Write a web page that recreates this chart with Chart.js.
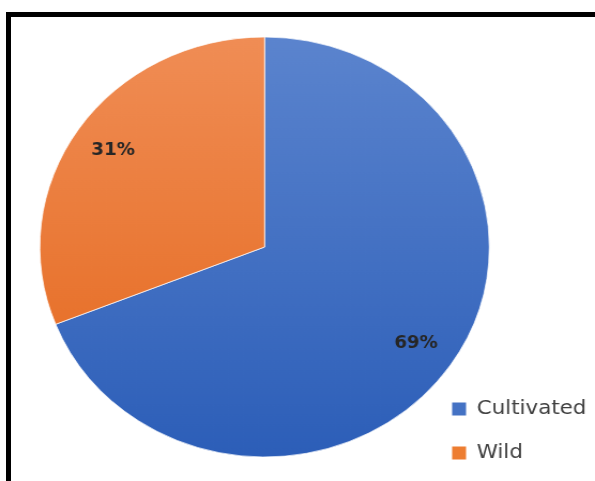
<!DOCTYPE html>
<html>
<head>
<meta charset="utf-8">
<script src="https://cdn.jsdelivr.net/npm/chart.js@4.4.1/dist/chart.umd.min.js"></script>
<style>
  html, body { margin: 0; padding: 0; background: #fff; overflow: hidden; }
  body { width: 595px; height: 481px; position: relative; }
  #myChartPie { position: absolute; left: 0; top: 0; z-index: 1; }
  .frame { position: absolute; left: 6px; top: 12px; width: 700px; height: 600px;
           border-top: 5px solid #000; border-left: 5px solid #000; z-index: 2; pointer-events: none; }
</style>
</head>
<body>
<canvas id="myChartPie" width="556" height="495" style="width:595px;height:495px"></canvas>
<div class="frame"></div>
<script>
const categories = ["Cultivated", "Wild"];
const shares = [69, 31];
const legendColors = ["#4472C4", "#ED7D31"];
const topColors = ["#5B84CE", "#F08D55"];
const bottomColors = ["#2C5EB8", "#E4661A"];

// percent labels drawn on the slices
const pctLabels = {
  id: 'pctLabels',
  afterDatasetsDraw(chart) {
    const ctx = chart.ctx;
    const meta = chart.getDatasetMeta(0);
    const total = shares.reduce((a, b) => a + b, 0);
    ctx.save();
    ctx.font = 'bold 17px "DejaVu Sans"';
    ctx.fillStyle = '#262626';
    ctx.textAlign = 'center';
    ctx.textBaseline = 'middle';
    meta.data.forEach((arc, i) => {
      const p = arc.getProps(['x', 'y', 'startAngle', 'endAngle', 'outerRadius'], true);
      const mid = (p.startAngle + p.endAngle) / 2;
      const r = p.outerRadius * 0.815;
      ctx.fillText(Math.round(shares[i] / total * 100) + '%', p.x + Math.cos(mid) * r, p.y + Math.sin(mid) * r);
    });
    ctx.restore();
  }
};

const myChart1 = document.getElementById("myChartPie").getContext("2d");
new Chart(myChart1, {
  type: 'pie',
  plugins: [pctLabels],
  data: {
    labels: categories,
    datasets: [{
      data: shares,
      radius: 210,
      borderWidth: 1,
      borderColor: 'rgba(255,255,255,0.7)',
      backgroundColor: (c) => {
        const i = c.dataIndex;
        const area = c.chart.chartArea;
        if (!area || i === undefined) return legendColors[i || 0];
        const cy = (area.top + area.bottom) / 2;
        const g = c.chart.ctx.createLinearGradient(0, cy - 210, 0, cy + 210);
        g.addColorStop(0, topColors[i]);
        g.addColorStop(1, bottomColors[i]);
        return g;
      },
    }],
  },
  options: {
    responsive: false,
    animation: false,
    layout: { padding: { left: 96, right: -2, top: 7, bottom: 8 } },
    plugins: {
      tooltip: { enabled: false },
      legend: {
        position: 'right',
        align: 'end',
        labels: {
          boxWidth: 13,
          boxHeight: 13,
          padding: 24,
          color: '#404040',
          font: { family: 'DejaVu Sans', size: 20 },
          generateLabels: () => categories.map((t, i) => ({
            text: t, fillStyle: legendColors[i], strokeStyle: legendColors[i],
            lineWidth: 0, hidden: false, index: i, fontColor: '#404040'
          })),
        },
      },
    },
  },
});
</script>
</body>
</html>
